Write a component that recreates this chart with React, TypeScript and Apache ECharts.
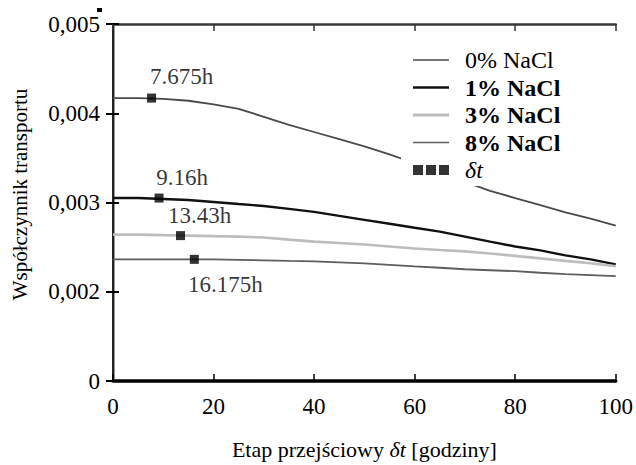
import React, { useEffect, useRef } from "react";
import * as echarts from "echarts";

const xValues = [0, 5, 10, 15, 20, 25, 30, 35, 40, 45, 50, 55, 60, 65, 70, 75, 80, 85, 90, 95, 100];
const nacl0 = [0.00417, 0.00417, 0.00416, 0.00414, 0.0041, 0.00405, 0.00396, 0.00387, 0.00379, 0.00371, 0.00363, 0.00354, 0.00344, 0.00334, 0.00323, 0.00313, 0.00305, 0.00297, 0.00289, 0.00282, 0.00274];
const nacl1 = [0.00305, 0.00305, 0.003039, 0.003028, 0.003006, 0.002983, 0.002961, 0.002928, 0.002895, 0.00285, 0.002806, 0.002762, 0.002717, 0.002673, 0.002618, 0.002562, 0.002507, 0.002463, 0.002407, 0.002363, 0.002307];
const nacl3 = [0.00264, 0.00264, 0.002634, 0.002629, 0.002623, 0.002618, 0.002607, 0.002584, 0.002562, 0.002546, 0.002529, 0.002507, 0.002485, 0.002468, 0.002452, 0.002429, 0.002402, 0.002374, 0.002346, 0.002319, 0.002285];
const nacl8 = [0.002363, 0.002363, 0.002363, 0.002363, 0.002363, 0.002357, 0.002352, 0.002346, 0.002341, 0.00233, 0.002319, 0.002302, 0.002285, 0.002269, 0.002252, 0.002241, 0.00223, 0.002213, 0.002197, 0.002186, 0.002174];
const deltaTx = [7.675, 9.16, 13.43, 16.175];
const deltaTy = [0.00417, 0.00305, 0.002629, 0.002363];
const seriesNames = ["0% NaCl", "1% NaCl", "3% NaCl", "8% NaCl", "δt"];
const xTicks = [0, 20, 40, 60, 80, 100];
const yTicks = [0.001, 0.002, 0.003, 0.004, 0.005]; // first tick is labelled "0" in the original

const FONT = "Liberation Serif";
const colors = ["#4a4a4a", "#111111", "#bdbdbd", "#5e5e5e"];
const widths = [1.8, 2.4, 2.6, 1.8];
const labelOffsets: [number, number][] = [[30, -22], [23, -21], [19, -20], [31, 25]];

export default function App() {
  const ref = useRef<HTMLDivElement>(null);
  useEffect(() => {
    if (!ref.current) return;
    const chart = echarts.init(ref.current, null, { renderer: "svg" });
    const lineData = [nacl0, nacl1, nacl3, nacl8];
    const lineSeries = lineData.map((arr, i) => ({
      name: seriesNames[i],
      type: "line",
      xAxisIndex: 0,
      yAxisIndex: 0,
      showSymbol: false,
      symbol: "none",
      data: arr.map((v, j) => [xValues[j], v]),
      lineStyle: { color: colors[i], width: widths[i] },
      itemStyle: { color: colors[i] },
      z: 2,
    }));
    const scatter = {
      name: seriesNames[4],
      type: "scatter",
      symbol: "rect",
      symbolSize: 9,
      itemStyle: { color: "#000" },
      z: 5,
      data: deltaTx.map((x, i) => ({
        value: [x, deltaTy[i]],
        label: {
          show: true,
          position: "inside",
          offset: labelOffsets[i],
          formatter: `${x}h`,
          color: "#000",
          textBorderWidth: 0,
          fontFamily: FONT,
          fontSize: 23,
        },
      })),
    };
    const legendIcons = [
      "path://M0,0h36v1.5h-36z",
      "path://M0,0h36v2.6h-36z",
      "path://M0,0h36v2.8h-36z",
      "path://M0,0h36v1.5h-36z",
      "path://M0,0h10v10h-10z M13,0h10v10h-10z M26,0h10v10h-10z",
    ];
    const legendStyles = [
      { fontWeight: "normal", fontStyle: "normal" },
      { fontWeight: "bold", fontStyle: "normal" },
      { fontWeight: "bold", fontStyle: "normal" },
      { fontWeight: "bold", fontStyle: "normal" },
      { fontWeight: "normal", fontStyle: "italic" },
    ];
    const legendColors = [...colors, "#000"];
    const yFmt = (v: number) => (v < 0.0015 ? "0" : v.toFixed(3).replace(".", ","));
    const axisLabelStyle = { color: "#000", fontFamily: FONT, fontSize: 23 };
    chart.setOption({
      animation: false,
      backgroundColor: "#fff",
      grid: { left: 113, right: 19, top: 24, bottom: 80, containLabel: false },
      legend: {
        left: 401,
        top: 44,
        orient: "vertical",
        backgroundColor: "#fff",
        padding: [4, 6, 4, 12],
        itemWidth: 36,
        itemHeight: 12,
        itemGap: 3.5,
        textStyle: { color: "#000", fontFamily: FONT, fontSize: 24, padding: [0, 0, 0, 11] },
        data: seriesNames.map((n, i) => ({
          name: n,
          icon: legendIcons[i],
          itemStyle: { color: legendColors[i], borderWidth: 0 },
          textStyle: { ...legendStyles[i], color: "#000", fontFamily: FONT, fontSize: 24, padding: [0, 0, 0, 11] },
        })),
        selectedMode: false,
        z: 4,
      },
      xAxis: [
        {
          type: "value",
          position: "bottom",
          min: xTicks[0],
          max: xTicks[xTicks.length - 1],
          interval: 20,
          axisLine: { lineStyle: { color: "#000", width: 3.5 } },
          axisTick: { inside: true, length: 7, lineStyle: { color: "#000", width: 1.5 } },
          splitLine: { show: false },
          axisLabel: { ...axisLabelStyle, margin: 14 },
          name: "Etap przejściowy {i|δt} [godziny]",
          nameLocation: "middle",
          nameGap: 57,
          nameTextStyle: {
            color: "#000",
            fontFamily: FONT,
            fontSize: 22,
            rich: { i: { fontStyle: "italic", fontFamily: FONT, fontSize: 22, color: "#000" } },
          },
          z: 3,
        },
        {
          type: "value",
          position: "top",
          min: xTicks[0],
          max: xTicks[xTicks.length - 1],
          interval: 20,
          axisLine: { lineStyle: { color: "#3a3a3a", width: 2.5 } },
          axisTick: { inside: true, length: 7, lineStyle: { color: "#333", width: 1.5 } },
          splitLine: { show: false },
          axisLabel: { show: false },
        },
      ],
      yAxis: [
        {
          type: "value",
          position: "left",
          min: yTicks[0],
          max: yTicks[yTicks.length - 1],
          interval: 0.001,
          axisLine: { lineStyle: { color: "#777", width: 2.5 } },
          axisTick: { inside: true, length: 6, lineStyle: { color: "#000", width: 2 } },
          splitLine: { show: false },
          axisLabel: { ...axisLabelStyle, margin: 13, formatter: yFmt },
          name: "Współczynnik transportu",
          nameLocation: "middle",
          nameGap: 83,
          nameRotate: 90,
          nameTextStyle: { color: "#000", fontFamily: FONT, fontSize: 21, padding: [0, 0, 0, 16] },
        },
        {
          type: "value",
          position: "right",
          min: yTicks[0],
          max: yTicks[yTicks.length - 1],
          interval: 0.001,
          axisLine: { lineStyle: { color: "#000", width: 1.5 } },
          axisTick: { inside: true, length: 7, lineStyle: { color: "#000", width: 2 } },
          splitLine: { show: false },
          axisLabel: { show: false },
        },
      ],
      graphic: [
        { type: "rect", left: 97, top: 8, shape: { width: 5, height: 4 }, style: { fill: "#000" } },
      ],
      series: [...lineSeries, scatter],
    });
    return () => chart.dispose();
  }, []);
  return <div ref={ref} style={{ width: 636, height: 465, position: "absolute", left: 0, top: 0 }} />;
}
